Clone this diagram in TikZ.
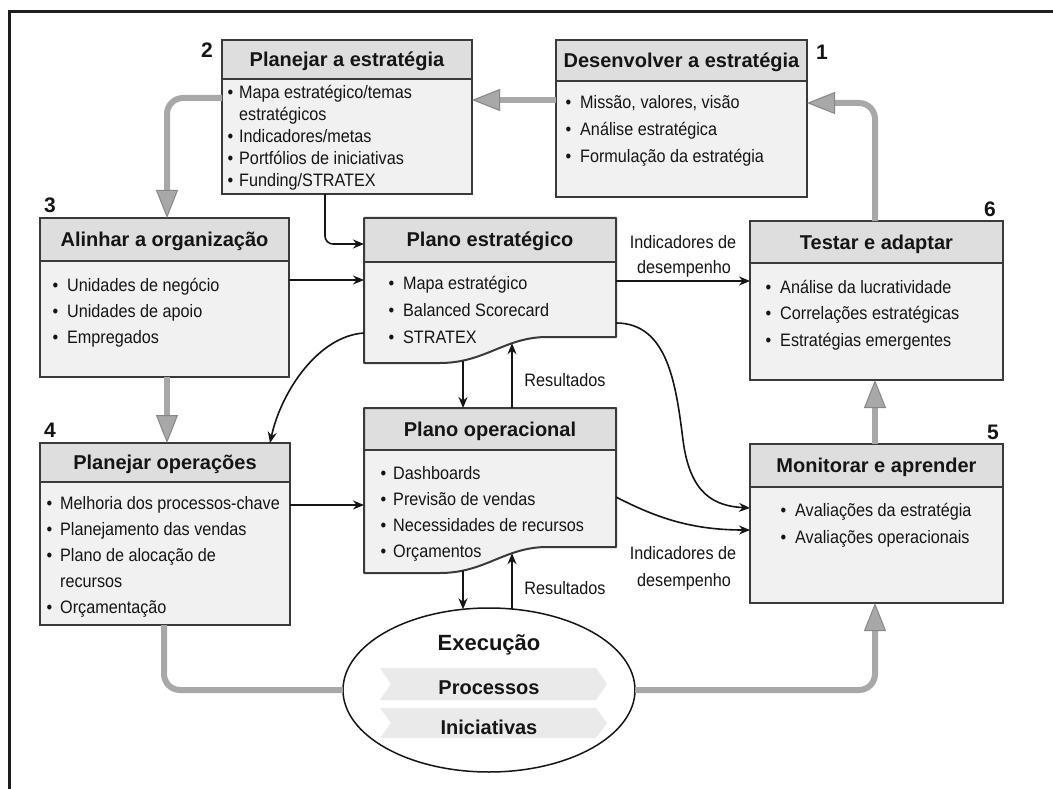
\documentclass[tikz,border=0pt]{standalone}
\usepackage{fontspec}
\setmainfont{Liberation Sans}
\newfontfamily\bodyfont{Liberation Sans}[FakeStretch=0.9]
\usetikzlibrary{arrows.meta,shapes.geometric,intersections}

\definecolor{framecol}{HTML}{1E1E1E}
\definecolor{edgecol}{HTML}{3A3A3A}
\definecolor{headfill}{HTML}{DEDEDE}
\definecolor{bodyfill}{HTML}{F1F1F1}
\definecolor{flowgray}{HTML}{A8A8A8}
\definecolor{flowedge}{HTML}{878787}
\definecolor{inkcol}{HTML}{151515}
\definecolor{bandcol}{HTML}{EAEAEA}

\tikzset{
  x=1pt, y=-1pt,
  panelframe/.style={draw=edgecol, line width=2pt, rectangle, inner sep=0pt, outer sep=0pt},
  divider/.style={draw=edgecol, line width=1.5pt},
  headtext/.style={font=\bfseries\fontsize{20}{24}\selectfont, text=inkcol, anchor=base, inner sep=0pt},
  itemtext/.style={font=\bodyfont\fontsize{18}{22}\selectfont, text=inkcol, anchor=base west, inner sep=0pt},
  labeltext/.style={font=\bodyfont\fontsize{18}{22}\selectfont, text=inkcol, anchor=base, inner sep=0pt},
  exectext/.style={font=\bfseries\fontsize{20}{24}\selectfont, text=inkcol, anchor=base, inner sep=0pt},
  stepnum/.style={font=\bfseries\fontsize{21}{24}\selectfont, text=inkcol, anchor=base, inner sep=0pt},
  flow/.style={draw=flowgray, line width=6pt, rounded corners=16pt},
  flowarrow/.style={flow, -{Triangle[length=28pt, width=22pt, fill=flowgray, color=flowedge, line width=1pt]}},
  link/.style={draw=inkcol, line width=1.6pt, -{Stealth[length=11pt, width=9pt]}},
  anchorbox/.style={rectangle, inner sep=0pt, outer sep=0pt, anchor=north west},
}

% panel: name, x1, y1, x2, y2, y of header rule, title
\newcommand\panel[7]{%
  \fill[bodyfill] (#2,#3) rectangle (#4,#5);
  \fill[headfill] (#2,#3) rectangle (#4,#6);
  \draw[divider] (#2,#6) -- (#4,#6);
  \node[panelframe, anchor=north west, minimum width={(#4-#2)*1pt}, minimum height={(#5-#3)*1pt}] (#1) at (#2,#3) {};
  \node[headtext] (#1-title) at ({(#2+#4)/2},{(#3+#6)/2+7}) {#7};
}

% bullet list: name, bullet gap, text x, first line centre y, line spacing, lines
\newcommand\items[6]{%
  \def\bul{\llap{\textbullet\hspace{#2pt}}}%
  \foreach \t [count=\k] in {#6} {
    \node[itemtext] (#1-\k) at (#3,{#4+6+(\k-1)*#5}) {\t};
  }
}

\begin{document}
\begin{tikzpicture}
\useasboundingbox (0,0) rectangle (1053,789);
\fill[white] (0,0) rectangle (1053,789);
\draw[framecol, line width=3pt] (9,789) -- (9,12) -- (1053,12);

% ---- plain panels
\panel{b2}{222}{40}{472}{194}{79}{Planejar a estratégia}
\panel{b1}{556}{40}{807}{197}{81}{Desenvolver a estratégia}
\panel{b3}{40}{218}{289}{377}{261}{Alinhar a organização}
\panel{b6}{750}{221}{1003}{380}{263}{Testar e adaptar}
\panel{b4}{40}{443}{290}{625}{482}{Planejar operações}
\panel{b5}{750}{444}{1003}{603}{487}{Monitorar e aprender}

\items{b2}{6}{239}{93}{22}{{\bul Mapa estratégico/temas},{estratégicos},{\bul Indicadores/metas},{\bul Portfólios de iniciativas},{\bul Funding/STRATEX}}
\items{b1}{9}{580}{103}{27}{{\bul Missão, valores, visão},{\bul Análise estratégica},{\bul Formulação da estratégia}}
\items{b3}{9}{67}{285}{26}{{\bul Unidades de negócio},{\bul Unidades de apoio},{\bul Empregados}}
\items{b6}{9}{780}{287}{26.5}{{\bul Análise da lucratividade},{\bul Correlações estratégicas},{\bul Estratégias emergentes}}
\items{b4}{8}{60}{503}{26}{{\bul Melhoria dos processos-chave},{\bul Planejamento das vendas},{\bul Plano de alocação de},{recursos},{\bul Orçamentação}}
\items{b5}{9}{795}{510}{27}{{\bul Avaliações da estratégia},{\bul Avaliações operacionais}}

% ---- document-shaped panels with a wavy lower edge
\fill[bodyfill] (364,218) -- (616,218) -- (616,337) -- (547,337) .. controls (505,337) and (485,363) .. (440,363) -- (364,363) -- cycle;
\fill[headfill] (364,218) rectangle (616,262);
\draw[divider] (364,262) -- (616,262);
\draw[edgecol, line width=2pt, line join=round, name path=pe-outline] (364,218) -- (616,218) -- (616,337) -- (547,337) .. controls (505,337) and (485,363) .. (440,363) -- (364,363) -- cycle;
\node[anchorbox, minimum width=252pt, minimum height=145pt] (pe) at (364,218) {};
\node[headtext] (pe-title) at (490,247) {Plano estratégico};
\items{pe}{9}{403}{283}{27}{{\bul Mapa estratégico},{\bul Balanced Scorecard},{\bul STRATEX}}

\fill[bodyfill] (364,408) -- (616,408) -- (616,547) -- (547,547) .. controls (505,547) and (485,573) .. (440,573) -- (364,573) -- cycle;
\fill[headfill] (364,408) rectangle (616,450);
\draw[divider] (364,450) -- (616,450);
\draw[edgecol, line width=2pt, line join=round, name path=po-outline] (364,408) -- (616,408) -- (616,547) -- (547,547) .. controls (505,547) and (485,573) .. (440,573) -- (364,573) -- cycle;
\node[anchorbox, minimum width=252pt, minimum height=165pt] (po) at (364,408) {};
\node[headtext] (po-title) at (490,436) {Plano operacional};
\items{po}{7}{393}{473}{26.3}{{\bul Dashboards},{\bul Previsão de vendas},{\bul Necessidades de recursos},{\bul Orçamentos}}

% ---- execution ellipse
\node[ellipse, draw=inkcol, line width=1.5pt, fill=white, minimum width=292pt, minimum height=164pt, inner sep=0pt, outer sep=0pt] (exec) at (489,690) {};
\path[name path=exec-outline] (489,690) ellipse [x radius=146pt, y radius=82pt];
\fill[bandcol] (380,668) -- (596,668) -- (607,684) -- (596,700) -- (380,700) -- (391,684) -- cycle;
\fill[bandcol] (380,708) -- (596,708) -- (607,723) -- (596,738) -- (380,738) -- (391,723) -- cycle;
\node[exectext, font=\bfseries\fontsize{22}{26}\selectfont] (exec-title) at (489,650) {Execução};
\node[exectext] (exec-proc) at (489,694) {Processos};
\node[exectext] (exec-init) at (489,734) {Iniciativas};

% ---- step numbers
\node[stepnum] (n1) at (822,60) {1};
\node[stepnum] (n2) at (207,58) {2};
\node[stepnum] (n3) at (50,212) {3};
\node[stepnum] (n4) at (50,437) {4};
\node[stepnum] (n5) at (993,439) {5};
\node[stepnum] (n6) at (990,217) {6};

% ---- main cycle (grey)
\draw[flowarrow] (b1.west |- 0,100) -- (b2.east |- 0,100);
\draw[flowarrow] (b2.west |- 0,98) -| (b3.north -| 167,0);
\draw[flowarrow] (b3.south -| 167,0) -- (b4.north -| 167,0);
\draw[flow] (b4.south -| 164,0) |- (exec.west);
\draw[flowarrow] (exec.east) -| (b5.south -| 875,0);
\draw[flowarrow] (b5.north -| 875,0) -- (b6.south -| 875,0);
\draw[flowarrow] (b6.north -| 875,0) |- (b1.east |- 0,103);

% ---- attachment points on the wavy edges and the ellipse
\path[name path=cut-pe-a] (463,300) -- (463,400);
\path[name path=cut-pe-b] (512,300) -- (512,400);
\path[name path=cut-po-a] (463,520) -- (463,595);
\path[name path=cut-po-b] (512,520) -- (512,595);
\path[name path=cut-ex-a] (463,590) -- (463,650);
\path[name path=cut-ex-b] (512,590) -- (512,650);
\path[name intersections={of=pe-outline and cut-pe-a, by=pe-dn}];
\path[name intersections={of=pe-outline and cut-pe-b, by=pe-up}];
\path[name intersections={of=po-outline and cut-po-a, by=po-dn}];
\path[name intersections={of=po-outline and cut-po-b, by=po-up}];
\path[name intersections={of=exec-outline and cut-ex-a, by=ex-dn}];
\path[name intersections={of=exec-outline and cut-ex-b, by=ex-up}];

% ---- information links (black)
\draw[link, rounded corners=8pt] (b2.south -| 325,0) |- (pe.west |- 0,244);
\draw[link] (b3.east |- 0,280) -- (pe.west |- 0,280);
\draw[link] (pe.east |- 0,281) -- (b6.west |- 0,281);
\draw[link] (pe.west |- 0,333) .. controls (318,336) and (281,392) .. (b4.north -| 270,0);
\draw[link] (b4.east |- 0,505) -- (po.west |- 0,505);
\draw[link] (pe.east |- 0,323) .. controls (668,323) and (676,385) .. (683,440) .. controls (690,495) and (715,506) .. (b5.west |- 0,508);
\draw[link] (po.east |- 0,497) .. controls (655,517) and (690,530) .. (b5.west |- 0,530);
\draw[link] (pe-dn) -- (po.north -| pe-dn);
\draw[link] (po.north -| pe-up) -- (pe-up);
\draw[link] (po-dn) -- (ex-dn);
\draw[link] (ex-up) -- (po-up);

% ---- link labels
\node[labeltext] (ind-a1) at (683,248) {Indicadores de};
\node[labeltext] (ind-a2) at (684,273) {desempenho};
\node[labeltext] (res-a) at (565,386) {Resultados};
\node[labeltext] (ind-b1) at (683,559) {Indicadores de};
\node[labeltext] (ind-b2) at (684,586) {desempenho};
\node[labeltext] (res-b) at (565,594) {Resultados};
\end{tikzpicture}
\end{document}
